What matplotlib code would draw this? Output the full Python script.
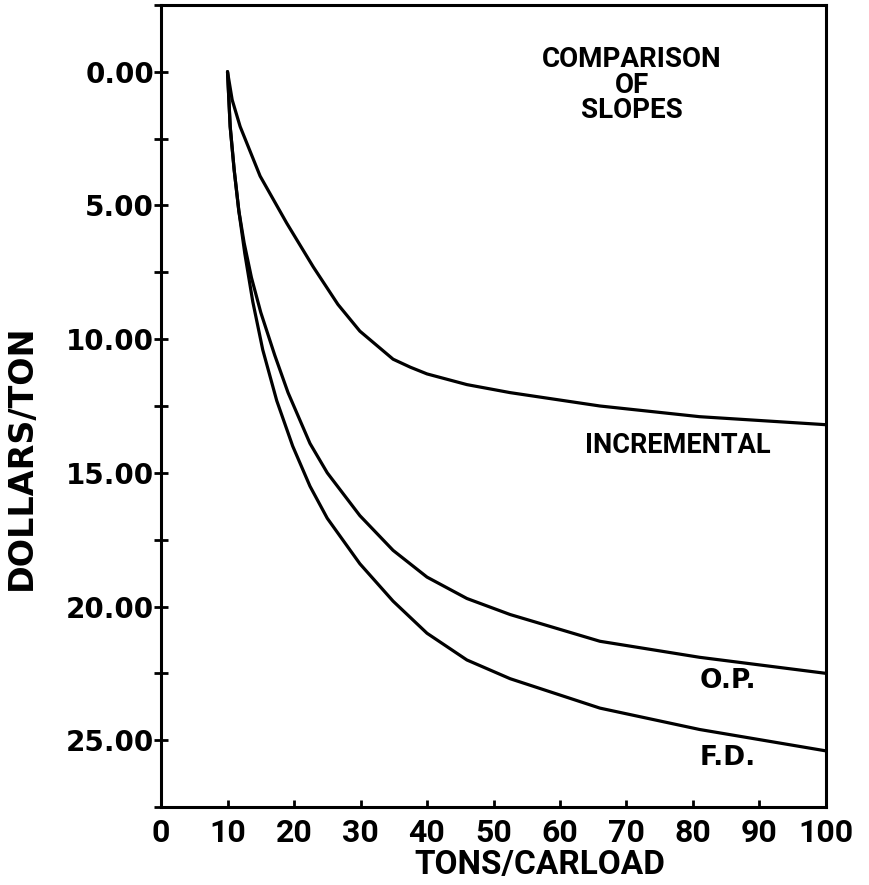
import matplotlib
matplotlib.use("Agg")
import matplotlib.pyplot as plt
from matplotlib.ticker import MultipleLocator, FormatStrFormatter

# values (tons/carload, dollars/ton)
inc_x = [10, 10.7, 11.9, 14.9, 18.9, 22.9, 26.6, 29.9, 34.9, 37.5, 40, 46, 52.5, 66, 81, 100]
inc_y = [0, 1.05, 2.05, 3.9, 5.66, 7.3, 8.7, 9.7, 10.75, 11.05, 11.3, 11.7, 12.0, 12.5, 12.9, 13.2]

op_x = [10, 10.4, 11.0, 11.7, 12.5, 13.6, 15.0, 17.1, 19.1, 22.4, 25, 29.9, 34.9, 40, 46, 52.5, 66, 81, 100]
op_y = [0, 2.05, 3.67, 5.2, 6.4, 7.7, 9.0, 10.6, 12.0, 13.9, 15.0, 16.6, 17.9, 18.9, 19.7, 20.3, 21.3, 21.9, 22.5]

fd_x = [10, 10.4, 11.0, 11.7, 12.6, 13.8, 15.3, 17.4, 19.8, 22.4, 25, 29.9, 34.9, 40, 46, 52.5, 66, 81, 100]
fd_y = [0, 2.05, 3.67, 5.2, 6.8, 8.6, 10.4, 12.3, 14.0, 15.5, 16.7, 18.4, 19.8, 21.0, 22.0, 22.7, 23.8, 24.6, 25.4]

x_ticks = [0, 10, 20, 30, 40, 50, 60, 70, 80, 90, 100]
y_ticks = [0, 5, 10, 15, 20, 25]

narrow = ['Roboto', 'DejaVu Sans']

fig = plt.figure(figsize=(8.69, 8.85), dpi=100)
ax = fig.add_axes([0.1853, 0.0881, 0.7652, 0.9063])

for xs, ys in [(inc_x, inc_y), (op_x, op_y), (fd_x, fd_y)]:
    ax.plot(xs, ys, color='black', lw=2.3, solid_capstyle='round', solid_joinstyle='round')

ax.set_xlim(0, 100)
ax.set_ylim(27.5, -2.5)

for s in ax.spines.values():
    s.set_linewidth(2.2)

ax.set_xticks(x_ticks)
ax.set_yticks(y_ticks)
ax.yaxis.set_minor_locator(MultipleLocator(2.5))
ax.yaxis.set_major_formatter(FormatStrFormatter('%.2f'))
ax.tick_params(axis='x', direction='in', length=5, width=2, pad=8)
ax.tick_params(axis='y', which='both', direction='inout', length=10, width=2, pad=0)

for lab in ax.get_xticklabels():
    lab.set_family(narrow)
    lab.set_fontweight('bold')
    lab.set_fontsize(23)
for lab in ax.get_yticklabels():
    lab.set_family('DejaVu Sans')
    lab.set_fontweight('bold')
    lab.set_fontsize(20)

ax.set_xlabel('TONS/CARLOAD', family=narrow, fontweight='bold', fontsize=24)
ax.xaxis.set_label_coords(0.57, -0.052)
ax.set_ylabel('DOLLARS/TON', family='DejaVu Sans', fontweight='bold', fontsize=24)
ax.yaxis.set_label_coords(-0.185, 0.436)

ax.text(70.8, 0.5, 'COMPARISON\nOF\nSLOPES', family=narrow, fontweight='bold',
        fontsize=20, ha='center', va='center', multialignment='center', linespacing=0.92)
ax.text(63.8, 13.97, 'INCREMENTAL', family=narrow, fontweight='bold', fontsize=19.5,
        ha='left', va='center')
ax.text(81.0, 22.77, 'O.P.', family='DejaVu Sans', fontweight='bold', fontsize=19,
        ha='left', va='center')
ax.text(81.0, 25.66, 'F.D.', family='DejaVu Sans', fontweight='bold', fontsize=19,
        ha='left', va='center')

fig.savefig('out.png', dpi=100)
